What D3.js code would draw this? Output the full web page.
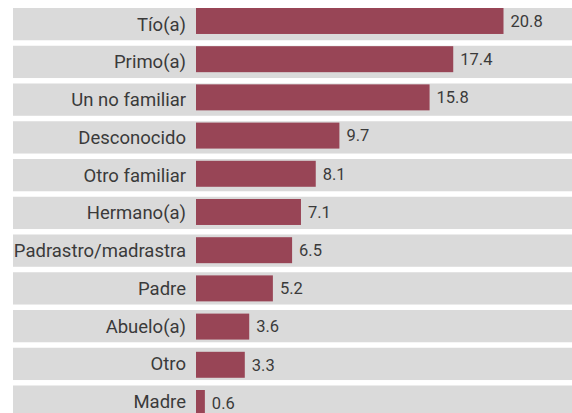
<!DOCTYPE html>
<html>
<head>
<meta charset="utf-8">
<script src="https://cdn.jsdelivr.net/npm/d3@7"></script>
<style>
  body { margin: 0; background: #fff; }
  text { font-family: Roboto, sans-serif; fill: #3a3a3a; }
</style>
</head>
<body>
<div id="chart"></div>
<script>
// data
const categories = ["Tío(a)", "Primo(a)", "Un no familiar", "Desconocido", "Otro familiar",
  "Hermano(a)", "Padrastro/madrastra", "Padre", "Abuelo(a)", "Otro", "Madre"];
const values = [20.8, 17.4, 15.8, 9.7, 8.1, 7.1, 6.5, 5.2, 3.6, 3.3, 0.6];

const width = 572, height = 413;
const rows = categories.map((c, i) => ({cat: c, val: values[i]}));

let svg = d3.select("#chart")
  .append("svg")
  .attr("width", width)
  .attr("height", height);

// gray background rows (step ~37.7)
let yRow = d3.scaleBand()
  .domain(categories)
  .range([8, 8 + 37.75 * (11 - 0.145)])
  .paddingInner(0.145)
  .paddingOuter(0);

// bars sit on a slightly different band (step ~38.2)
let yBar = d3.scaleBand()
  .domain(categories)
  .range([8, 8 + 38.2 * (11 - 0.32)])
  .paddingInner(0.32)
  .paddingOuter(0);

let x = d3.scaleLinear()
  .domain([0, 20.8])
  .range([196, 503.5]);

svg.append("g").selectAll("rect")
  .data(rows)
  .join("rect")
  .attr("x", 13)
  .attr("y", d => yRow(d.cat))
  .attr("width", width - 13)
  .attr("height", yRow.bandwidth())
  .attr("fill", "#dadada");

svg.append("g").selectAll("rect")
  .data(rows)
  .join("rect")
  .attr("x", x(0))
  .attr("y", d => yBar(d.cat))
  .attr("width", d => x(d.val) - x(0))
  .attr("height", yBar.bandwidth())
  .attr("fill", "#984556");

// category labels
svg.append("g").selectAll("text")
  .data(rows)
  .join("text")
  .attr("x", 186)
  .attr("y", d => yRow(d.cat) + yRow.bandwidth() / 2)
  .attr("dy", "0.35em")
  .style("text-anchor", "end")
  .style("font-size", "18.5px")
  .text(d => d.cat);

// value labels
svg.append("g").selectAll("text")
  .data(rows)
  .join("text")
  .attr("x", d => x(d.val) + 7)
  .attr("y", d => yBar(d.cat) + yBar.bandwidth() / 2)
  .attr("dy", "0.35em")
  .style("font-size", "16.5px")
  .text(d => d.val.toFixed(1));
</script>
</body>
</html>
